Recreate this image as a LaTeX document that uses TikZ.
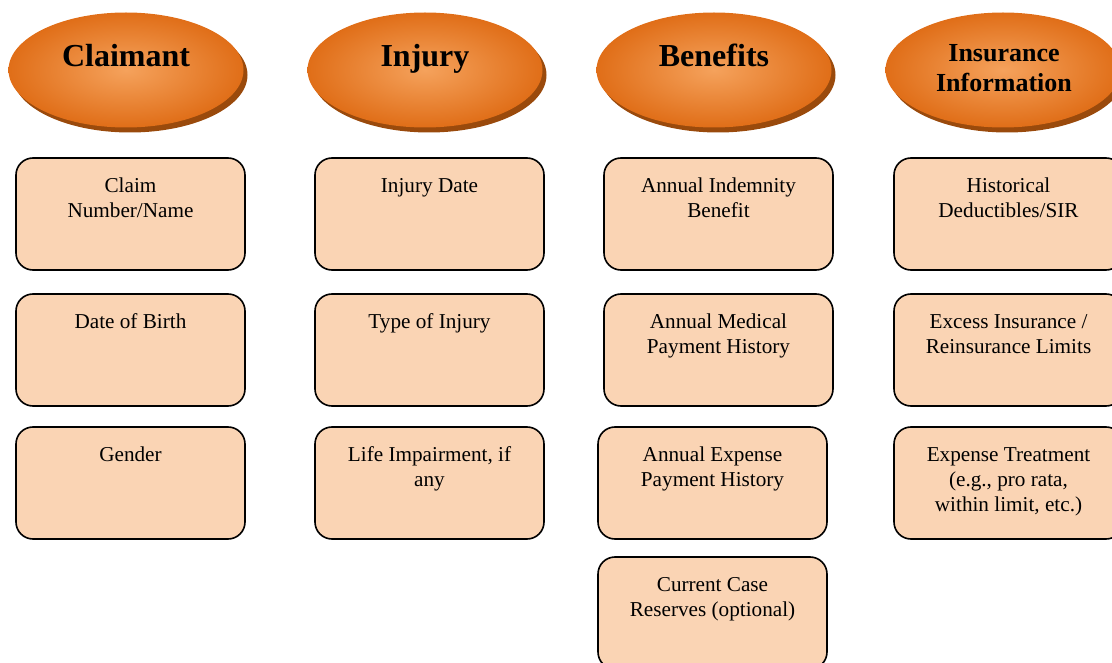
\documentclass[tikz,border=0pt]{standalone}
\usepackage{fontspec}
\setmainfont{Liberation Serif}
\usetikzlibrary{shadows,shapes.geometric}
\definecolor{hdrouter}{HTML}{E06E18}
\definecolor{hdrinner}{HTML}{F5A25C}
\definecolor{hdrshadow}{HTML}{9A4A0C}
\definecolor{boxfill}{HTML}{FAD4B4}
\tikzset{
  header/.style={ellipse, minimum width=235pt, minimum height=115pt, inner sep=0pt,
    shading=radial, inner color=hdrinner, outer color=hdrouter,
    general shadow={fill=hdrshadow, shadow xshift=4pt, shadow yshift=-5pt}},
  headtext/.style={font=\bfseries\fontsize{32}{36}\selectfont, anchor=base},
  headtextsmall/.style={font=\bfseries\fontsize{26}{30}\selectfont, anchor=base},
  itembox/.style={rectangle, draw=black, line width=1.6pt, rounded corners=17pt,
    fill=boxfill, minimum width=229pt, minimum height=112pt, inner sep=0pt},
  itemtext/.style={font=\fontsize{21.2}{25}\selectfont, anchor=base, inner sep=0pt}
}
\newcommand{\lines}[1]{\begin{tabular}[t]{@{}c@{}}#1\end{tabular}}
\begin{document}
\begin{tikzpicture}[x=1pt,y=-1pt]
\useasboundingbox (0,0) rectangle (1112,663);
\clip (0,0) rectangle (1112,663);

% column headers
\node[header] (hClaim) at (126,70) {};
\node[header] (hInj)   at (425,70) {};
\node[header] (hBen)   at (714,70) {};
\node[header] (hIns)   at (1003,70) {};
\node[headtext] (tClaim) at ([yshift=3pt]hClaim.center) {Claimant};
\node[headtext] (tInj)   at ([yshift=3pt]hInj.center) {Injury};
\node[headtext] (tBen)   at ([yshift=3pt]hBen.center) {Benefits};
\node[headtextsmall] (tIns) at ([xshift=1pt,yshift=8pt]hIns.center) {\lines{Insurance\\Information}};

% claimant
\node[itembox] (c1) at (130.5,214) {};
\node[itembox] (c2) at (130.5,350) {};
\node[itembox] (c3) at (130.5,483) {};
% injury
\node[itembox] (i1) at (429.5,214) {};
\node[itembox] (i2) at (429.5,350) {};
\node[itembox] (i3) at (429.5,483) {};
% benefits
\node[itembox] (b1) at (718.5,214) {};
\node[itembox] (b2) at (718.5,350) {};
\node[itembox] (b3) at (712.5,483) {};
\node[itembox] (b4) at (712.5,613) {};
% insurance information
\node[itembox] (n1) at (1008.5,214) {};
\node[itembox] (n2) at (1008.5,350) {};
\node[itembox] (n3) at (1008.5,483) {};

\foreach \b/\t in {c1/{Claim\\Number/Name}, c2/{Date of Birth}, c3/{Gender},
                   i1/{Injury Date}, i2/{Type of Injury}, i3/{Life Impairment, if\\any},
                   b1/{Annual Indemnity\\Benefit}, b2/{Annual Medical\\Payment History},
                   b3/{Annual Expense\\Payment History}, b4/{Current Case\\Reserves (optional)},
                   n1/{Historical\\Deductibles/SIR}, n2/{Excess Insurance /\\Reinsurance Limits},
                   n3/{Expense Treatment\\(e.g., pro rata,\\within limit, etc.)}}
  \node[itemtext] (\b-txt) at ([yshift=-35.5pt]\b.north) {\lines{\t}};
\end{tikzpicture}
\end{document}
